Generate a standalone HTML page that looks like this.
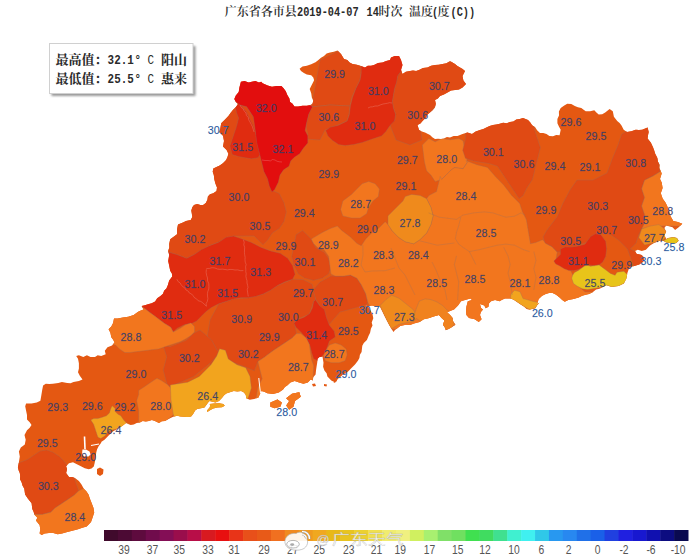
<!DOCTYPE html><html><head><meta charset="utf-8"><title>广东省各市县温度</title><style>
html,body{margin:0;padding:0;background:#fff}
body{width:690px;height:559px;overflow:hidden;position:relative}
svg{position:absolute;left:0;top:0}
.t{font-family:"Liberation Serif","Noto Serif CJK SC","Noto Sans CJK SC",serif;font-weight:bold;font-size:12px;fill:#222}
.lb{font-family:"Liberation Sans",sans-serif;font-size:10.7px;fill:#323c6c;fill-opacity:.9;stroke:#323c6c;stroke-opacity:.5;stroke-width:.3}
.lw{font-family:"Liberation Sans",sans-serif;font-size:10.7px;fill:#2a5a9e;stroke:#2a5a9e;stroke-opacity:.4;stroke-width:.25}
.cb{font-family:"Liberation Sans",sans-serif;font-size:12px;fill:#555}
.lg{font-family:"Liberation Mono","Noto Sans CJK SC",monospace;font-size:12px;fill:#222;font-weight:bold}

</style></head><body>
<svg width="690" height="559" viewBox="0 0 690 559">
<defs><clipPath id="gd"><path d="M240.9,81.7 L244.5,81 L248.8,82.5 L251.7,81.7 L255.4,81 L259,82.5 L261.2,81.7 L262.6,83.2 L267.7,85.4 L272,86.8 L276.4,86.1 L281.4,86.1 L283.6,88.3 L285.8,91.2 L287.2,94.8 L289.4,98.4 L290.1,102 L292.3,103.5 L294.5,106.4 L298.1,106.4 L302.5,105.7 L306.8,105.7 L310.4,104.9 L312.6,103.5 L313.3,100.6 L311.9,97.7 L311.2,93.3 L309.7,89 L311.2,86.1 L312.6,83.2 L314.1,80.3 L313.3,77.4 L311.2,75.2 L306.8,74.5 L303.9,73 L301,70.9 L299.6,68.7 L302.5,66.5 L306.8,65.8 L311.2,64.3 L315.5,62.2 L318.4,60 L321,57.7 L324,56 L326.6,53.6 L330,52.5 L333.8,51.8 L337.5,50.5 L341,54 L344,59 L347.3,59.9 L349.6,62.4 L352.5,64 L356.8,64.7 L361,66 L365,67.5 L367.8,65.8 L371,65.8 L374,65 L378,62.9 L382.5,62.5 L386.2,61.1 L390,60 L391,57.5 L394.8,55.9 L399,56 L401,60 L402.5,65 L401,70 L402.5,74 L405.9,71.7 L410,71 L413,70.5 L416.1,71 L419,70 L423,68 L427.5,67.5 L431.1,65.7 L435,65 L438.8,64.8 L442.5,64 L446.6,63.3 L450,61 L455,64 L457.4,65.9 L460,67.5 L462.6,69.1 L465,71 L462.5,76 L463.4,80.4 L466,84 L462.5,87.5 L459,89.6 L455,90 L451,90.6 L447.5,92.5 L443.9,94.6 L440,96 L437.9,98.6 L435,100 L435.8,103.8 L435,107.5 L432.8,110.3 L430,112.5 L427.5,114.6 L426,117.5 L422.5,121 L420.4,123.5 L417.5,125 L419,130 L421.9,131.4 L425,132.5 L430,135 L432.3,137.2 L435,139 L438,138.7 L441,139 L444,138.6 L446.9,137.1 L450,137.5 L453.6,135.9 L457.5,136 L462.5,134 L467.5,132.5 L472,134 L475.7,131.5 L480,130 L483.4,129.1 L486.4,127.4 L489.6,125.9 L493,125 L496.4,124.6 L499.8,123.7 L503.1,122.8 L506.7,123.2 L510,122 L513.4,121.4 L516.3,119.5 L519.8,119.1 L523,118 L528,120 L530.3,122.4 L532.1,125.2 L535,127 L537.1,130.3 L540,133 L543.3,133.1 L546.5,134.1 L549.4,136.1 L553,136.3 L556.2,135 L559.6,135.2 L560.7,129.8 L558.9,126.6 L557.4,123.3 L557.4,118.9 L559,115.4 L558.9,111.4 L560.7,108 L563.9,105.8 L567.2,103.7 L571.3,103.9 L574.8,105.9 L577.9,107.3 L581.3,108 L585.7,111.3 L590.1,111.3 L594.3,110.2 L596.4,112.5 L598.7,114.6 L602.2,114.2 L605.2,112.4 L609.6,109.1 L612.8,111.3 L613.9,116.7 L617.2,121.1 L619.6,123 L621.5,125.4 L623.7,129.8 L627,132 L631.4,131.3 L635.7,129.8 L639,130 L642.2,129.8 L647.6,127.6 L648.7,132 L648,135.2 L647.6,138.5 L650.9,142.8 L653,147.2 L654.2,150.4 L655.2,153.7 L657.4,158 L657.9,161.5 L659.6,164.6 L659.3,168 L660.7,171.1 L661.7,173.6 L660,178.9 L661.7,182.5 L662.6,187.9 L660.8,193.3 L662.6,198.6 L665.3,202.2 L667.1,205.8 L668.9,211.1 L670.7,216.5 L673.3,221 L677.8,221.9 L682.3,223.7 L678.7,227.2 L675.1,229.9 L672.5,227.2 L669.8,226.4 L666.2,225.5 L664.4,228.1 L666.2,231.7 L664.4,235.3 L666.2,238.9 L668,238 L673.3,237.1 L677,238 L678.7,240.7 L676,243.3 L671.6,243.3 L666.2,242.5 L663.5,241 L660.8,240.6 L658,241.6 L654,243 L650,245.6 L645.9,249.7 L641.8,251 L637.8,249.7 L635.1,251 L636.5,253.7 L641.8,255 L644.5,257.7 L643.2,261.7 L639.2,264.4 L635.1,265.8 L631.1,267.1 L629.1,268 L627.4,273 L626.5,278.3 L623.9,283.5 L618.7,286.1 L615.2,286.6 L611.7,287 L606.5,285.2 L603,287 L599.6,288.7 L596.1,289.6 L592.6,292.2 L589.1,293.9 L585.7,294.8 L582.2,295.7 L578.7,297.4 L573.5,299.1 L568.3,300 L564.8,301.7 L562.2,300 L559.6,297.4 L556.1,294.8 L552.6,293 L549.1,293 L545.7,293.9 L542.2,295.7 L538.7,299.1 L537,304.3 L539.4,302.7 L537.1,305.3 L535.3,308.2 L529.8,309.6 L526.7,309 L524.3,306.8 L520,304 L516,301.3 L513.4,299.6 L510.5,298.6 L505,298.6 L502.1,299.7 L499.5,301.3 L495,300 L491,301.3 L488.9,303.6 L488.5,306.8 L485.7,308.2 L484.3,305.5 L480,304 L481,308 L483,309.6 L480.9,312 L480,315 L481.6,319.2 L478.8,322 L474.7,319.2 L469,317.9 L466.4,315 L466,310.9 L466.4,306.8 L467.8,301.3 L472,300 L470.5,298.6 L465,300 L461,301.3 L458,305.5 L454,309.6 L450,311 L447,312.3 L450,315 L452.6,317.9 L452.6,320.6 L455.4,324.7 L451.3,327.5 L448.7,329.1 L445.8,330.2 L444.7,327.3 L443,324.7 L444.4,320.6 L441.6,317.9 L438.9,315 L433.4,316.5 L429.2,317.9 L423.7,319.2 L419.6,322 L414,323.4 L410,325 L405.8,324.7 L400.3,326 L397.7,328.1 L395,330 L393.5,332 L391.9,329.6 L389.5,325.6 L387,320.8 L384.6,315.9 L382.2,311.1 L379.8,306.3 L375.8,306.6 L372,305.5 L368.6,306.3 L365.3,305.5 L368.3,306.8 L370.1,309.5 L372.5,314.3 L373.3,318.3 L371.7,322.4 L372.5,325.6 L370.9,328.8 L370.1,332.8 L368.5,336.1 L366.9,340 L363.8,343 L362.3,345.8 L361.9,348.9 L361.6,352.1 L359.9,354.8 L359.4,357.9 L357.9,360.7 L355,364.6 L351,368.6 L347.1,372.5 L343.1,374.5 L340.8,376.6 L338.2,378.4 L335.3,382.4 L331.3,380.4 L327.4,376.5 L326.6,373.2 L324.4,370.6 L323.1,366.7 L323.5,362.7 L322.5,356.8 L319.5,357 L317.6,358.7 L317.2,362.7 L316.6,366.6 L316,370.5 L315.6,374.5 L313.4,377.1 L312.6,380.4 L310.7,379.5 L307.8,382.4 L303.4,383.8 L299.1,382.4 L294.7,380.9 L290.4,382.4 L287.5,385.3 L284.9,387 L283.1,389.6 L278.8,392.5 L273,394 L267.2,393.3 L264.3,391.8 L261.4,391.1 L259.9,394 L258.5,397.6 L254.1,399.1 L249.8,399.8 L246.2,398.3 L245.8,395.1 L244,392.5 L241.1,391.1 L237.4,391.5 L233.8,391.1 L229.1,392.5 L226.2,393.5 L224.1,395.2 L221.9,398.1 L219,401 L215.4,402.5 L212.5,401.7 L209.6,401 L208.1,402.5 L206.7,404.6 L204.5,407.5 L200.9,408.3 L197.2,409 L195.1,410.4 L193.6,413.3 L191.4,416.2 L189.4,417 L186.3,417.1 L183.3,416.8 L180.2,416.6 L177.2,415.8 L173.2,416.8 L169.1,418.8 L165,420.9 L161.8,421.2 L159,422.9 L154.9,420.9 L151.9,420 L148.8,420.9 L145.8,421.6 L142.7,420.9 L139.9,422.5 L136.7,422.9 L133.8,424.4 L130.6,424.9 L126.1,423 L122.2,425.9 L117.3,428.9 L112.4,431.8 L108.4,435.7 L104.5,439.7 L101.5,441.7 L101,443 L98.6,446.3 L97,449.5 L96.2,452.7 L95.8,455.9 L95.4,459.2 L94.6,463.2 L93.8,466.5 L91.5,468.6 L88.7,469.2 L84.8,468.2 L80.9,466.3 L76.9,464.3 L73,462.3 L69,463.3 L66.1,466.3 L67.1,469.2 L66.1,473.1 L69,477.1 L72.1,477.1 L75,478.1 L78.9,481 L81.5,484.5 L83.8,488.7 L86.5,491.5 L88.5,494.5 L90,499 L91.8,503.5 L93.5,508 L94.2,512.5 L92.5,517.7 L91,522 L88.9,524.2 L86.7,526.4 L82.3,527.8 L78,529.3 L72.2,530.7 L66.4,532.2 L62,533.6 L57.7,534.3 L53.3,532.9 L49,532.9 L44.6,533.6 L41.7,535.1 L39.6,533.6 L40.3,529.3 L39.6,524.9 L35.9,520.6 L37.4,517.7 L34.5,514.8 L33.6,511.8 L32.3,509 L31.6,503.2 L28,498.8 L25.1,494.5 L24.3,488.7 L22.5,485.5 L21.5,482 L20,479.2 L20.2,476.1 L19.8,473.1 L18.6,470.2 L17.9,467.2 L18.9,462.3 L19.8,456.4 L18.9,451.5 L20.8,447.6 L24.8,444.6 L25.7,439.7 L24.5,435 L27,430.3 L29.7,427.7 L31.5,425 L29.7,422.3 L27,419.6 L27,415.1 L26.1,410.7 L25.2,406.2 L26.1,403.5 L31.5,403.5 L36.8,402.6 L40.4,400.8 L41.3,395.5 L42.2,390.1 L43.1,385.6 L45.8,383.8 L49.3,383.9 L52.9,383.8 L58.3,382.9 L61.9,382 L67.2,382.9 L70.5,383.3 L73.5,382 L78.9,381.1 L82.5,379.4 L79.8,375.8 L78,372.2 L78.9,368.6 L78.9,363.3 L78,358.8 L76.2,356.1 L78.9,355.2 L83.3,357 L86.9,355.2 L90.5,357 L95,357 L97.7,355.2 L101.2,356.1 L105.7,354.3 L104.8,350.7 L107.5,347.2 L112,345.5 L114.5,342.5 L113.2,339.7 L111.3,337.2 L110.4,332.8 L108.6,329.2 L111.3,326.5 L113.1,322.9 L114,318.5 L117.6,318.5 L122.9,317.6 L128.3,316.7 L133.7,314.9 L136.4,313.1 L139,311.3 L143.5,309.5 L141.7,306 L144.9,305.3 L148,304.2 L151.7,303.2 L155.1,301.5 L157.2,298.2 L160.5,296.1 L163,293.8 L164.1,290.7 L166.4,288.4 L167.7,285.4 L169.2,280.5 L172.2,276.6 L171.9,273.4 L170.2,270.7 L169.2,265.8 L168.2,260.9 L169.2,255 L168.2,251 L169.3,247.6 L169.2,244.1 L170.2,239.2 L173,237.2 L177,234.3 L177,229.4 L178,224.4 L183,222.5 L186,221 L190.7,220 L192.3,216.9 L191.8,213.6 L191.3,210.4 L192.3,207.2 L194,205.1 L197.2,204 L200.4,205.1 L203.1,205.1 L205.8,202.9 L207.4,199.7 L207.9,196.5 L210,194.3 L213.3,193.3 L216.5,191.1 L217,187.4 L215.4,183.6 L214.3,179.3 L213.8,175 L212.7,171.8 L213.3,168.6 L216.5,167 L219.7,165.4 L222.9,163.2 L226.1,160 L227.5,157 L228.4,153.7 L226.6,150 L223,146.5 L224,141 L223,135.8 L219.4,132.2 L220.3,128.6 L221.2,123.3 L224.8,119.7 L228.4,116 L230.5,112.9 L232.9,110 L236,107 L238,104 L235.8,102 L234.3,99.1 L235.8,95.5 L238.7,91.9 L239.4,87.5ZM97,469 L100,467.5 L103.5,469.5 L103,474 L100,476 L97,474ZM209.6,403.9 L213.9,403.6 L219,403.2 L223.3,403.9 L224.8,405.7 L221.9,407.2 L217.5,407.5 L213.2,408.6 L209.6,410.4 L207.4,411.9 L207,410.4 L209.6,407.5 L210.3,405.4ZM270.3,402.5 L277.5,399.6 L281.9,402.5 L280.4,406.8 L274.6,408.3 L270.3,406.8ZM286.2,398.2 L292,393.8 L299.3,392.3 L300.7,396.7 L295,401 L293.5,406.8 L289.1,409.7 L286.2,405.4 L289.1,401ZM312,384 L315,383.5 L316,386 L313,386.5ZM324,384 L327,384.5 L326.5,386.5 L324,386ZM332,377.5 L336,377 L337,381 L334,383Z"/></clipPath></defs>
<path d="M240.9,81.7 L244.5,81 L248.8,82.5 L251.7,81.7 L255.4,81 L259,82.5 L261.2,81.7 L262.6,83.2 L267.7,85.4 L272,86.8 L276.4,86.1 L281.4,86.1 L283.6,88.3 L285.8,91.2 L287.2,94.8 L289.4,98.4 L290.1,102 L292.3,103.5 L294.5,106.4 L298.1,106.4 L302.5,105.7 L306.8,105.7 L310.4,104.9 L312.6,103.5 L313.3,100.6 L311.9,97.7 L311.2,93.3 L309.7,89 L311.2,86.1 L312.6,83.2 L314.1,80.3 L313.3,77.4 L311.2,75.2 L306.8,74.5 L303.9,73 L301,70.9 L299.6,68.7 L302.5,66.5 L306.8,65.8 L311.2,64.3 L315.5,62.2 L318.4,60 L321,57.7 L324,56 L326.6,53.6 L330,52.5 L333.8,51.8 L337.5,50.5 L341,54 L344,59 L347.3,59.9 L349.6,62.4 L352.5,64 L356.8,64.7 L361,66 L365,67.5 L367.8,65.8 L371,65.8 L374,65 L378,62.9 L382.5,62.5 L386.2,61.1 L390,60 L391,57.5 L394.8,55.9 L399,56 L401,60 L402.5,65 L401,70 L402.5,74 L405.9,71.7 L410,71 L413,70.5 L416.1,71 L419,70 L423,68 L427.5,67.5 L431.1,65.7 L435,65 L438.8,64.8 L442.5,64 L446.6,63.3 L450,61 L455,64 L457.4,65.9 L460,67.5 L462.6,69.1 L465,71 L462.5,76 L463.4,80.4 L466,84 L462.5,87.5 L459,89.6 L455,90 L451,90.6 L447.5,92.5 L443.9,94.6 L440,96 L437.9,98.6 L435,100 L435.8,103.8 L435,107.5 L432.8,110.3 L430,112.5 L427.5,114.6 L426,117.5 L422.5,121 L420.4,123.5 L417.5,125 L419,130 L421.9,131.4 L425,132.5 L430,135 L432.3,137.2 L435,139 L438,138.7 L441,139 L444,138.6 L446.9,137.1 L450,137.5 L453.6,135.9 L457.5,136 L462.5,134 L467.5,132.5 L472,134 L475.7,131.5 L480,130 L483.4,129.1 L486.4,127.4 L489.6,125.9 L493,125 L496.4,124.6 L499.8,123.7 L503.1,122.8 L506.7,123.2 L510,122 L513.4,121.4 L516.3,119.5 L519.8,119.1 L523,118 L528,120 L530.3,122.4 L532.1,125.2 L535,127 L537.1,130.3 L540,133 L543.3,133.1 L546.5,134.1 L549.4,136.1 L553,136.3 L556.2,135 L559.6,135.2 L560.7,129.8 L558.9,126.6 L557.4,123.3 L557.4,118.9 L559,115.4 L558.9,111.4 L560.7,108 L563.9,105.8 L567.2,103.7 L571.3,103.9 L574.8,105.9 L577.9,107.3 L581.3,108 L585.7,111.3 L590.1,111.3 L594.3,110.2 L596.4,112.5 L598.7,114.6 L602.2,114.2 L605.2,112.4 L609.6,109.1 L612.8,111.3 L613.9,116.7 L617.2,121.1 L619.6,123 L621.5,125.4 L623.7,129.8 L627,132 L631.4,131.3 L635.7,129.8 L639,130 L642.2,129.8 L647.6,127.6 L648.7,132 L648,135.2 L647.6,138.5 L650.9,142.8 L653,147.2 L654.2,150.4 L655.2,153.7 L657.4,158 L657.9,161.5 L659.6,164.6 L659.3,168 L660.7,171.1 L661.7,173.6 L660,178.9 L661.7,182.5 L662.6,187.9 L660.8,193.3 L662.6,198.6 L665.3,202.2 L667.1,205.8 L668.9,211.1 L670.7,216.5 L673.3,221 L677.8,221.9 L682.3,223.7 L678.7,227.2 L675.1,229.9 L672.5,227.2 L669.8,226.4 L666.2,225.5 L664.4,228.1 L666.2,231.7 L664.4,235.3 L666.2,238.9 L668,238 L673.3,237.1 L677,238 L678.7,240.7 L676,243.3 L671.6,243.3 L666.2,242.5 L663.5,241 L660.8,240.6 L658,241.6 L654,243 L650,245.6 L645.9,249.7 L641.8,251 L637.8,249.7 L635.1,251 L636.5,253.7 L641.8,255 L644.5,257.7 L643.2,261.7 L639.2,264.4 L635.1,265.8 L631.1,267.1 L629.1,268 L627.4,273 L626.5,278.3 L623.9,283.5 L618.7,286.1 L615.2,286.6 L611.7,287 L606.5,285.2 L603,287 L599.6,288.7 L596.1,289.6 L592.6,292.2 L589.1,293.9 L585.7,294.8 L582.2,295.7 L578.7,297.4 L573.5,299.1 L568.3,300 L564.8,301.7 L562.2,300 L559.6,297.4 L556.1,294.8 L552.6,293 L549.1,293 L545.7,293.9 L542.2,295.7 L538.7,299.1 L537,304.3 L539.4,302.7 L537.1,305.3 L535.3,308.2 L529.8,309.6 L526.7,309 L524.3,306.8 L520,304 L516,301.3 L513.4,299.6 L510.5,298.6 L505,298.6 L502.1,299.7 L499.5,301.3 L495,300 L491,301.3 L488.9,303.6 L488.5,306.8 L485.7,308.2 L484.3,305.5 L480,304 L481,308 L483,309.6 L480.9,312 L480,315 L481.6,319.2 L478.8,322 L474.7,319.2 L469,317.9 L466.4,315 L466,310.9 L466.4,306.8 L467.8,301.3 L472,300 L470.5,298.6 L465,300 L461,301.3 L458,305.5 L454,309.6 L450,311 L447,312.3 L450,315 L452.6,317.9 L452.6,320.6 L455.4,324.7 L451.3,327.5 L448.7,329.1 L445.8,330.2 L444.7,327.3 L443,324.7 L444.4,320.6 L441.6,317.9 L438.9,315 L433.4,316.5 L429.2,317.9 L423.7,319.2 L419.6,322 L414,323.4 L410,325 L405.8,324.7 L400.3,326 L397.7,328.1 L395,330 L393.5,332 L391.9,329.6 L389.5,325.6 L387,320.8 L384.6,315.9 L382.2,311.1 L379.8,306.3 L375.8,306.6 L372,305.5 L368.6,306.3 L365.3,305.5 L368.3,306.8 L370.1,309.5 L372.5,314.3 L373.3,318.3 L371.7,322.4 L372.5,325.6 L370.9,328.8 L370.1,332.8 L368.5,336.1 L366.9,340 L363.8,343 L362.3,345.8 L361.9,348.9 L361.6,352.1 L359.9,354.8 L359.4,357.9 L357.9,360.7 L355,364.6 L351,368.6 L347.1,372.5 L343.1,374.5 L340.8,376.6 L338.2,378.4 L335.3,382.4 L331.3,380.4 L327.4,376.5 L326.6,373.2 L324.4,370.6 L323.1,366.7 L323.5,362.7 L322.5,356.8 L319.5,357 L317.6,358.7 L317.2,362.7 L316.6,366.6 L316,370.5 L315.6,374.5 L313.4,377.1 L312.6,380.4 L310.7,379.5 L307.8,382.4 L303.4,383.8 L299.1,382.4 L294.7,380.9 L290.4,382.4 L287.5,385.3 L284.9,387 L283.1,389.6 L278.8,392.5 L273,394 L267.2,393.3 L264.3,391.8 L261.4,391.1 L259.9,394 L258.5,397.6 L254.1,399.1 L249.8,399.8 L246.2,398.3 L245.8,395.1 L244,392.5 L241.1,391.1 L237.4,391.5 L233.8,391.1 L229.1,392.5 L226.2,393.5 L224.1,395.2 L221.9,398.1 L219,401 L215.4,402.5 L212.5,401.7 L209.6,401 L208.1,402.5 L206.7,404.6 L204.5,407.5 L200.9,408.3 L197.2,409 L195.1,410.4 L193.6,413.3 L191.4,416.2 L189.4,417 L186.3,417.1 L183.3,416.8 L180.2,416.6 L177.2,415.8 L173.2,416.8 L169.1,418.8 L165,420.9 L161.8,421.2 L159,422.9 L154.9,420.9 L151.9,420 L148.8,420.9 L145.8,421.6 L142.7,420.9 L139.9,422.5 L136.7,422.9 L133.8,424.4 L130.6,424.9 L126.1,423 L122.2,425.9 L117.3,428.9 L112.4,431.8 L108.4,435.7 L104.5,439.7 L101.5,441.7 L101,443 L98.6,446.3 L97,449.5 L96.2,452.7 L95.8,455.9 L95.4,459.2 L94.6,463.2 L93.8,466.5 L91.5,468.6 L88.7,469.2 L84.8,468.2 L80.9,466.3 L76.9,464.3 L73,462.3 L69,463.3 L66.1,466.3 L67.1,469.2 L66.1,473.1 L69,477.1 L72.1,477.1 L75,478.1 L78.9,481 L81.5,484.5 L83.8,488.7 L86.5,491.5 L88.5,494.5 L90,499 L91.8,503.5 L93.5,508 L94.2,512.5 L92.5,517.7 L91,522 L88.9,524.2 L86.7,526.4 L82.3,527.8 L78,529.3 L72.2,530.7 L66.4,532.2 L62,533.6 L57.7,534.3 L53.3,532.9 L49,532.9 L44.6,533.6 L41.7,535.1 L39.6,533.6 L40.3,529.3 L39.6,524.9 L35.9,520.6 L37.4,517.7 L34.5,514.8 L33.6,511.8 L32.3,509 L31.6,503.2 L28,498.8 L25.1,494.5 L24.3,488.7 L22.5,485.5 L21.5,482 L20,479.2 L20.2,476.1 L19.8,473.1 L18.6,470.2 L17.9,467.2 L18.9,462.3 L19.8,456.4 L18.9,451.5 L20.8,447.6 L24.8,444.6 L25.7,439.7 L24.5,435 L27,430.3 L29.7,427.7 L31.5,425 L29.7,422.3 L27,419.6 L27,415.1 L26.1,410.7 L25.2,406.2 L26.1,403.5 L31.5,403.5 L36.8,402.6 L40.4,400.8 L41.3,395.5 L42.2,390.1 L43.1,385.6 L45.8,383.8 L49.3,383.9 L52.9,383.8 L58.3,382.9 L61.9,382 L67.2,382.9 L70.5,383.3 L73.5,382 L78.9,381.1 L82.5,379.4 L79.8,375.8 L78,372.2 L78.9,368.6 L78.9,363.3 L78,358.8 L76.2,356.1 L78.9,355.2 L83.3,357 L86.9,355.2 L90.5,357 L95,357 L97.7,355.2 L101.2,356.1 L105.7,354.3 L104.8,350.7 L107.5,347.2 L112,345.5 L114.5,342.5 L113.2,339.7 L111.3,337.2 L110.4,332.8 L108.6,329.2 L111.3,326.5 L113.1,322.9 L114,318.5 L117.6,318.5 L122.9,317.6 L128.3,316.7 L133.7,314.9 L136.4,313.1 L139,311.3 L143.5,309.5 L141.7,306 L144.9,305.3 L148,304.2 L151.7,303.2 L155.1,301.5 L157.2,298.2 L160.5,296.1 L163,293.8 L164.1,290.7 L166.4,288.4 L167.7,285.4 L169.2,280.5 L172.2,276.6 L171.9,273.4 L170.2,270.7 L169.2,265.8 L168.2,260.9 L169.2,255 L168.2,251 L169.3,247.6 L169.2,244.1 L170.2,239.2 L173,237.2 L177,234.3 L177,229.4 L178,224.4 L183,222.5 L186,221 L190.7,220 L192.3,216.9 L191.8,213.6 L191.3,210.4 L192.3,207.2 L194,205.1 L197.2,204 L200.4,205.1 L203.1,205.1 L205.8,202.9 L207.4,199.7 L207.9,196.5 L210,194.3 L213.3,193.3 L216.5,191.1 L217,187.4 L215.4,183.6 L214.3,179.3 L213.8,175 L212.7,171.8 L213.3,168.6 L216.5,167 L219.7,165.4 L222.9,163.2 L226.1,160 L227.5,157 L228.4,153.7 L226.6,150 L223,146.5 L224,141 L223,135.8 L219.4,132.2 L220.3,128.6 L221.2,123.3 L224.8,119.7 L228.4,116 L230.5,112.9 L232.9,110 L236,107 L238,104 L235.8,102 L234.3,99.1 L235.8,95.5 L238.7,91.9 L239.4,87.5ZM97,469 L100,467.5 L103.5,469.5 L103,474 L100,476 L97,474ZM209.6,403.9 L213.9,403.6 L219,403.2 L223.3,403.9 L224.8,405.7 L221.9,407.2 L217.5,407.5 L213.2,408.6 L209.6,410.4 L207.4,411.9 L207,410.4 L209.6,407.5 L210.3,405.4ZM270.3,402.5 L277.5,399.6 L281.9,402.5 L280.4,406.8 L274.6,408.3 L270.3,406.8ZM286.2,398.2 L292,393.8 L299.3,392.3 L300.7,396.7 L295,401 L293.5,406.8 L289.1,409.7 L286.2,405.4 L289.1,401ZM312,384 L315,383.5 L316,386 L313,386.5ZM324,384 L327,384.5 L326.5,386.5 L324,386ZM332,377.5 L336,377 L337,381 L334,383Z" fill="#e45812"/>
<g clip-path="url(#gd)">
<path d="M200,100 L236,102 L240,105 L246.7,106.7 L253.3,116.7 L258.3,128.3 L261.7,140 L263.3,153.3 L265,166.7 L268.3,180 L271.7,190 L279.3,193.5 L284,202.8 L286.3,212.1 L284,221.4 L279.3,228.4 L272.3,233 L267.7,240 L263,244.7 L254,236 L233.5,236.1 L218.7,242.2 L208.9,245.9 L194.1,254.6 L186.7,258.3 L176.9,254.6 L168.3,252.1 L150,250 L160,200Z" fill="#e04a14" stroke="#9a7060" stroke-opacity=".45" stroke-width=".7"/>
<path d="M311,107 L330,105 L350,106 L352,97 L356,88 L360,80 L361,73 L362,67 L340,50 L320,60 L311.7,106Z" fill="#e04a14" stroke="#9a7060" stroke-opacity=".45" stroke-width=".7"/>
<path d="M325,130 L338,125 L347,121 L349,114 L350,106 L330,105 L311,107 L309,113 L307,120 L306,127 L308,135 L305,139 L320,140Z" fill="#e04a14" stroke="#9a7060" stroke-opacity=".45" stroke-width=".7"/>
<path d="M403,66 L470,60 L470,90 L440,100 L426,118 L420,125 L422,140 L410,145 L396,140 L390,125 L394,121 L395.6,114.4 L393.4,108 L392.3,101.6 L394.5,88.7 L397.7,75.8 L403,68Z" fill="#e04a14" stroke="#9a7060" stroke-opacity=".45" stroke-width=".7"/>
<path d="M296,234.8 L302.6,230.4 L311.3,239.1 L315.7,247.8 L324.3,252.2 L328.7,258.7 L330.9,267.4 L328.7,273.9 L322.2,278.3 L313.5,280.4 L304.8,278.3 L298.3,273.9 L293.9,265.2 L291.7,256.5 L293.9,245.7Z" fill="#e04a14" stroke="#9a7060" stroke-opacity=".45" stroke-width=".7"/>
<path d="M218.7,303.8 L233.5,298.9 L248.3,297.7 L263.1,294 L277.9,285.3 L292.6,279.2 L303,279.5 L312.3,284.2 L315.8,299.3 L313.7,301.5 L309.4,314.3 L298.7,318.6 L294.4,321.8 L296.5,333.6 L292.2,337.9 L279.4,346.5 L272.9,350.8 L264.3,357.3 L257.9,361.5 L254.3,370.7 L235.5,363.2 L223.9,360 L211.7,368.1 L205,350 L210,320Z" fill="#e04a14" stroke="#9a7060" stroke-opacity=".45" stroke-width=".7"/>
<path d="M315.8,299.3 L313,290 L320,282 L330.9,276 L343.9,276.1 L350.4,275 L357,278.3 L361.3,284.8 L365.7,293.5 L367.8,302.2 L367,304.5 L355,308 L340,312 L328.7,325.1 L324.4,316.5 L320.1,305.8Z" fill="#e04a14" stroke="#9a7060" stroke-opacity=".45" stroke-width=".7"/>
<path d="M163,345 L170,346.7 L186.7,340 L193.3,333.3 L200,330 L211.7,340 L217,350 L220,352 L210,363.3 L193.3,376.7 L170,386.7 L166.7,383.3 L163.3,370 L166.7,356.7Z" fill="#e04a14" stroke="#9a7060" stroke-opacity=".45" stroke-width=".7"/>
<path d="M238.6,102.9 L246.1,111.5 L252.6,124.4 L256.9,137.3 L260.1,154.5 L258,157.7 L251.5,158.8 L245.1,157.7 L238.6,156.6 L232.2,154.5 L230,145.9 L232.2,139.4 L234.3,133 L236.5,126.6 L238.6,118 L236.5,112.6 L235.4,107.2Z" fill="#e02c10" stroke="#9a7060" stroke-opacity=".45" stroke-width=".7"/>
<path d="M361.2,55 L405,55 L403.1,68.3 L400.9,71.5 L397.7,75.8 L396.6,82.2 L394.5,88.7 L393.4,95.1 L392.3,101.6 L393.4,108 L395.6,114.4 L394.5,120.9 L390.2,125.2 L385.9,131.6 L381.6,135.9 L375.2,138.1 L368.7,140.2 L362.3,142.4 L353.7,144.5 L345.1,145.6 L338.6,144.5 L332.2,140.2 L327.9,135.9 L325.7,130.6 L330,127.3 L338.6,125.2 L347.2,120.9 L349.4,114.4 L350.4,105.9 L352.6,97.3 L355.8,88.7 L360.1,80.1 L361.2,73.6Z" fill="#e02c10" stroke="#9a7060" stroke-opacity=".45" stroke-width=".7"/>
<path d="M160,245 L168.3,252.1 L176.9,254.6 L186.7,258.3 L194.1,254.6 L201.5,249.6 L208.9,245.9 L218.7,242.2 L226.1,237.3 L233.5,236.1 L240.9,238.5 L250.8,242.2 L260.6,247.2 L270.5,250.9 L280.3,253.3 L287.7,258.3 L292.6,265.6 L295.1,274.3 L292.6,279.2 L285.2,281.7 L277.9,285.3 L270.5,290.3 L263.1,294 L255.7,296.4 L248.3,297.7 L240.9,297.7 L233.5,298.9 L226.1,301.4 L218.7,303.8 L211.4,307.5 L206.4,311.2 L201.5,316.1 L196.6,321.1 L191.7,323.5 L184.3,324.8 L176.9,328.4 L173.2,332.1 L170.7,327.2 L164.6,323.5 L159.6,319.8 L154.7,316.1 L149.8,312.4 L144.9,308.7 L141.2,306.3 L130,300 L150,280 L160,260Z" fill="#e02c10" stroke="#9a7060" stroke-opacity=".45" stroke-width=".7"/>
<path d="M315.6,299.7 L319.5,305.6 L324.4,309.5 L326.4,317.4 L329.4,325.3 L334.3,331.2 L335.3,337.1 L329.4,341 L327.4,346.9 L325.4,352.8 L321.5,356.8 L317.6,360.7 L313.6,358.7 L311.7,352.8 L309.7,345 L306.7,339.1 L301.8,333.1 L295.9,327.2 L293.9,323.3 L297.9,319.4 L303.8,317.4 L309.7,313.5 L312.6,307.6 L313.6,301.7Z" fill="#e02c10" stroke="#9a7060" stroke-opacity=".45" stroke-width=".7"/>
<path d="M230,75 L300,75 L300,100 L311.7,106 L312.2,107.2 L308.7,114.3 L306.9,121.5 L305.1,130.4 L307.8,135.8 L307.8,142.9 L303.3,148.3 L299.7,153.7 L294.4,157.2 L290.8,160.8 L289,166.2 L283.6,169.8 L280,175.1 L278.3,182.3 L274.7,189.4 L272,192.1 L269.3,185.9 L267.5,178.7 L263.9,171.6 L262.2,164.4 L260.4,157.2 L258.6,150.1 L256.8,142.9 L255.9,135.8 L255,128.6 L253.3,116.7 L246.7,106.7 L240,105 L236,102 L230,99Z" fill="#e20e0e" stroke="#9a7060" stroke-opacity=".45" stroke-width=".7"/>
<path d="M422.3,145 L428.8,138.6 L435.2,141.8 L441.7,138.6 L450.2,139.7 L458.8,138.6 L463.1,140.7 L465.3,151.5 L467.4,162.2 L463.1,168.7 L454.5,167.6 L450.2,170.8 L446,175.1 L441.7,179.4 L435.2,181.5 L430.9,175.1 L426.6,170.8 L424.5,162.2 L423.4,153.6Z" fill="#f2761e" stroke="#9a7060" stroke-opacity=".45" stroke-width=".7"/>
<path d="M342.9,200.9 L351.5,194.4 L357.9,188 L362.2,183.7 L368.7,181.5 L375.1,183.7 L379.4,189 L378.3,196.6 L372.9,200.9 L368.7,207.3 L366.5,213.7 L360.1,218 L351.5,218 L342.9,215.9 L340.7,209.5Z" fill="#f2761e" stroke="#9a7060" stroke-opacity=".45" stroke-width=".7"/>
<path d="M311.3,239.1 L322.2,232.6 L330.9,228.3 L337.4,226.1 L341.7,230.4 L350.4,237 L357,243.5 L361.3,245.7 L365.7,239.1 L372.2,232.6 L378.7,228.3 L385.2,221.7 L388,224.5 L392.3,230.9 L398.7,237.4 L405.2,241.7 L413.7,243.8 L420.2,239.5 L426.6,233.1 L430.9,224.5 L433.1,215.9 L430.9,207.3 L426.6,198.7 L429,195.4 L436.5,191.6 L440.3,176.5 L441.7,179.4 L446,175.1 L450.2,170.8 L454.5,167.6 L463.1,168.7 L467.4,162.2 L466.1,160.7 L476.8,164.7 L487.5,167.4 L495.6,176.8 L503.6,184.9 L511.7,195.6 L519.7,203.6 L522.4,211.7 L526.4,219.7 L527.7,227.7 L529.1,235.8 L530.4,243.8 L535.8,242.5 L542.5,239.8 L546.5,243.8 L551.9,246.5 L557.2,251.9 L555.9,259.9 L559.9,262.6 L565.3,268 L570.6,270.6 L573.3,276 L576,284 L585,292 L600,292 L605,300 L560,320 L380,330 L370,306.5 L367.8,302.2 L365.7,293.5 L361.3,284.8 L357,278.3 L350.4,275 L343.9,276.1 L335.2,276.1 L330.9,273.9 L329.8,265.2 L328.7,256.5 L324.3,250 L317.8,247.8 L313.5,243.5Z" fill="#f2761e" stroke="#9a7060" stroke-opacity=".45" stroke-width=".7"/>
<path d="M465.4,125 L532.4,112 L532.4,120.7 L535.1,131.4 L537.7,139.5 L540.4,147.5 L537.7,158.3 L535.1,169 L532.4,179.7 L527,187.7 L523,195.8 L519,198.5 L513.6,190.4 L508.3,182.4 L502.9,174.3 L497.5,166.3 L489.5,163.6 L481.4,162.3 L473.4,160.9 L465.4,158.3 L462.7,150.2 L465.4,139.5Z" fill="#e04a14" stroke="#9a7060" stroke-opacity=".45" stroke-width=".7"/>
<path d="M621.6,134.3 L636,125 L650,125 L650.3,137.2 L656,151.5 L658.9,163 L660.3,171.6 L653.2,175.9 L644.6,180.2 L641.7,188.8 L644.6,197.4 L641.7,206 L644.6,214.6 L644.6,223.2 L641.7,228.9 L638.8,234.6 L636,243.2 L630.2,248.9 L636,251.8 L641.7,254.7 L644.6,262 L635,270 L627.4,248.9 L618.8,240.3 L610.2,234.6 L604.4,233.2 L598.7,234.6 L593,240.3 L584.4,243.2 L575.8,246.1 L567.2,248.9 L561.5,251.8 L557.2,251.9 L551.9,246.5 L545,243 L543,237 L547,230 L557,217 L563,203 L570,190 L577,180 L593,180 L607,173 L613,157 L618,145Z" fill="#e04a14" stroke="#9a7060" stroke-opacity=".45" stroke-width=".7"/>
<path d="M257.9,361.5 L264.3,357.3 L272.9,350.8 L279.4,346.5 L285.8,342.2 L292.2,337.9 L296.5,333.6 L300.8,333.6 L306.2,337.9 L309.4,344.4 L310.5,353 L311.5,359.4 L313.7,365.8 L313,380 L300,400 L255.8,400 L257.9,387.3 L262.2,378.7 L260,370.1Z" fill="#f2761e" stroke="#9a7060" stroke-opacity=".45" stroke-width=".7"/>
<path d="M325.4,350.9 L329.4,345 L335.3,343 L341.2,345 L346.1,348.9 L347.1,354.8 L345.1,360.7 L339.2,362.7 L331.3,362.7 L325.4,360.7 L323.5,355.8Z" fill="#f2761e" stroke="#9a7060" stroke-opacity=".45" stroke-width=".7"/>
<path d="M100,300 L141.2,306.3 L144.9,308.7 L149.8,312.4 L154.7,316.1 L159.6,319.8 L164.6,323.5 L170.7,327.2 L173.2,332.1 L180.2,328.3 L185.5,324.7 L190.9,322.9 L194.5,326.5 L194.5,331.9 L190.9,335.5 L185.5,339 L180.2,341.7 L174.8,343.5 L169.4,345.3 L164.1,347.1 L158.7,348.9 L151.6,349.8 L144.4,350.7 L137.2,351.6 L130.1,352.5 L124.7,352.5 L119.4,348.9 L115.8,345.3 L100,340Z" fill="#f2761e" stroke="#9a7060" stroke-opacity=".45" stroke-width=".7"/>
<path d="M138.7,390.4 L144.8,386.4 L150.9,382.3 L156.9,378.3 L161,380.3 L167.1,384.3 L171.1,388.4 L173.2,394.5 L173.2,404.6 L175.2,412.7 L171.1,416.8 L161,425 L150.9,425 L138.7,425 L138.7,416.8 L138.7,410.7 L136.7,400.6 L138.7,394.5Z" fill="#f2761e" stroke="#9a7060" stroke-opacity=".45" stroke-width=".7"/>
<path d="M10,463 L18.6,462.9 L27.2,459.7 L33.6,455.4 L40,451.1 L46.5,450 L52.9,452.2 L59.4,456.5 L63.6,460.8 L66.9,465.1 L70.1,471.5 L74.4,477.9 L76.5,484.4 L78.7,490.8 L74.4,495.1 L67.9,499.4 L61.5,503.7 L55,508 L50.8,512.3 L42.2,514.4 L33.6,514.4 L10,514Z" fill="#e04a14" stroke="#9a7060" stroke-opacity=".45" stroke-width=".7"/>
<path d="M30,540 L33.6,514.4 L42.2,514.4 L50.8,512.3 L55,508 L61.5,503.7 L67.9,499.4 L74.4,495.1 L78.7,490.8 L83,488.7 L90,485 L100,500 L100,540Z" fill="#f2761e" stroke="#9a7060" stroke-opacity=".45" stroke-width=".7"/>
<path d="M658.9,165 L660.3,171.6 L653.2,175.9 L644.6,180.2 L641.7,188.8 L644.6,197.4 L641.7,206 L644.6,214.6 L644.6,223.2 L641.7,228.9 L660,226 L690,226 L690,165Z" fill="#f2761e" stroke="#9a7060" stroke-opacity=".45" stroke-width=".7"/>
<path d="M265,398 L305,390 L305,412 L265,412Z" fill="#f2761e" stroke="#9a7060" stroke-opacity=".45" stroke-width=".7"/>
<path d="M388,215.9 L394.4,209.5 L403,200.9 L405.2,196.6 L411.6,194.4 L420.2,195.5 L426.6,198.7 L430.9,207.3 L433.1,215.9 L430.9,224.5 L426.6,233.1 L420.2,239.5 L413.7,243.8 L405.2,241.7 L398.7,237.4 L392.3,230.9 L388,224.5Z" fill="#ef8a1c" stroke="#9a7060" stroke-opacity=".45" stroke-width=".7"/>
<path d="M380.1,305.4 L385.9,299.6 L391.7,295.3 L399,298.2 L406.2,304 L413.5,309.8 L414.9,312.7 L416.4,317 L413.5,321.4 L406.2,322.8 L399,324.3 L391.7,328.6 L388.8,324.3 L384.5,315.6Z" fill="#ef8a1c" stroke="#9a7060" stroke-opacity=".45" stroke-width=".7"/>
<path d="M416.4,308.3 L419.3,301.1 L425.1,298.9 L430.9,299.6 L436.7,301.8 L442.5,305.4 L446.8,309.8 L451.2,312.7 L452.6,317 L454.1,324.3 L451.2,328.6 L445.4,330.1 L442.5,324.3 L436.7,321.4 L428,321.4 L420.7,321.4 L416.4,318.5 L413.5,321.4 L414.9,312.7Z" fill="#f0821e" stroke="#9a7060" stroke-opacity=".45" stroke-width=".7"/>
<path d="M641.7,228.9 L650.3,226 L658.9,224.6 L664.6,228.9 L668,235 L663,240 L653.2,243 L644.6,245 L638.8,237.5Z" fill="#ef8a1c" stroke="#9a7060" stroke-opacity=".45" stroke-width=".7"/>
<path d="M170.3,385 L187.7,382.2 L199.3,376.4 L210.9,364.8 L216.7,356.1 L219.6,348.8 L225.4,350.3 L228.3,359 L237,364.8 L245.7,367.7 L250,376.4 L251.4,388 L248.6,396.7 L245,405 L200,420 L175,420 L173.2,414 L171,400Z" fill="#f2a41e" stroke="#9a7060" stroke-opacity=".45" stroke-width=".7"/>
<path d="M112.2,405.7 L115.1,408.6 L115.1,411.4 L118,414.3 L120.8,415.7 L123.7,420 L126.5,422.9 L129.4,424.3 L125.1,427.2 L118,428.6 L112.2,430 L107.9,431.5 L105.1,435.8 L100.8,438.6 L97.9,437.2 L96.5,432.9 L95,428.6 L93.6,424.3 L90.8,420 L93.6,418.6 L97.9,418.6 L102.2,417.2 L106.5,415.7 L109.4,412.9 L110.8,408.6Z" fill="#f2a41e" stroke="#9a7060" stroke-opacity=".45" stroke-width=".7"/>
<path d="M511,294 L514.6,290.3 L520,291.7 L523,298.6 L528.4,300 L532.5,301.3 L539.4,302.7 L535.3,308.2 L529.8,309.6 L524.3,306.8 L520,304 L516,301.3 L510.5,298.6Z" fill="#f2a41e" stroke="#9a7060" stroke-opacity=".45" stroke-width=".7"/>
<path d="M663.5,240.7 L668,238 L673.3,237.1 L677,238 L678.7,240.7 L676,243.3 L671.6,243.3 L666.2,242.5Z" fill="#e8c41a" stroke="#9a7060" stroke-opacity=".45" stroke-width=".7"/>
<path d="M553.8,261.1 L556.6,258.3 L560.4,254.5 L560.4,248.9 L565.1,247 L571.7,247 L578.3,246 L584.9,244.2 L587.7,240.4 L590.6,236.6 L595.3,233.8 L600.9,234.7 L605.7,241.3 L606.6,248.9 L605.7,256.4 L602.8,262.1 L599.1,264.9 L594.3,265.8 L589.6,264.9 L584.9,265.8 L582.1,267.7 L578.3,269.6 L573.6,270.6 L568.9,270.6 L564.2,268.7 L559.4,265.8 L555.7,264Z" fill="#e02c10" stroke="#9a7060" stroke-opacity=".45" stroke-width=".7"/>
<path d="M572.6,275.3 L574.5,272.5 L578.3,270.6 L582.1,267.7 L584.9,265.8 L587.7,265.4 L590.6,266.3 L594.3,265.8 L599.1,264.9 L602.8,267.7 L606.6,270.6 L610.4,273.4 L615.1,275.3 L617,272.2 L623.9,271.3 L627.4,274.8 L626.5,280 L623.9,283.5 L618.7,286.1 L611.7,287 L606.5,285.2 L603,287 L597.8,287.8 L592.6,288.7 L587.4,289.6 L582.2,288.7 L577,286.1 L573.5,283.5 L571.7,278.3Z" fill="#e8c41a" stroke="#9a7060" stroke-opacity=".45" stroke-width=".7"/>
<path d="M428.6,212.9 L439.3,217.2 L447.9,218.3 L456.5,219.4 L462.9,215.1 L473.7,212.9 L484.4,211.9 L493,212.9 L499.4,215.1 L505.9,217.2 L514.5,216.2 L520.9,212.9 L525.2,215.1" fill="none" stroke="#9a7060" stroke-opacity=".45" stroke-width=".7"/>
<path d="M460.8,217.2 L458.7,225.8 L456.5,232.3 L455.4,238.7 L458.7,244.1 L462.9,247.3 L469.4,251.6 L473.7,260.2 L475.8,264.5" fill="none" stroke="#9a7060" stroke-opacity=".45" stroke-width=".7"/>
<path d="M469.4,251.6 L480.1,249.5 L488.7,247.3 L497.3,245.2 L505.9,244.1 L514.5,245.2 L523.1,249.5 L529.5,251.6" fill="none" stroke="#9a7060" stroke-opacity=".45" stroke-width=".7"/>
<path d="M503.7,247.3 L508,255.9 L510.2,264.5 L508,273.1 L510.2,281.7 L512.3,295" fill="none" stroke="#9a7060" stroke-opacity=".45" stroke-width=".7"/>
<path d="M420,240.9 L428.6,243 L437.2,245.2 L445.8,244.1 L454.4,243" fill="none" stroke="#9a7060" stroke-opacity=".45" stroke-width=".7"/>
<path d="M456.5,255.9 L454.4,264.5 L456.5,273.1 L458.7,281.7 L457.6,300" fill="none" stroke="#9a7060" stroke-opacity=".45" stroke-width=".7"/>
<path d="M533.8,251.6 L536,260.2 L533.8,268.8 L536,277.4 L533.8,290" fill="none" stroke="#9a7060" stroke-opacity=".45" stroke-width=".7"/>
<path d="M362.8,245 L363,255 L361,265 L365,272 L372,271 L385,270.7 L395,268" fill="none" stroke="#9a7060" stroke-opacity=".45" stroke-width=".7"/>
<path d="M391,248 L395,258 L399,268 L405,275 L410,285 L415,295" fill="none" stroke="#9a7060" stroke-opacity=".45" stroke-width=".7"/>
<path d="M432,262 L436,270 L440,280 L445,290 L447,300" fill="none" stroke="#9a7060" stroke-opacity=".45" stroke-width=".7"/>
<path d="M206.4,268.5 L209.3,268.4 L212.1,267.7 L215,268 L217.4,269 L219.9,269.3 L222.5,269.1 L225,269.5 L227.5,269.9 L230,269.4 L232.5,269.5 L235,270 L237.8,269.9 L240.6,270.7 L243.4,270.6" fill="none" stroke="#fff" stroke-opacity=".22" stroke-width=".8"/>
<path d="M243.4,239.8 L244.2,242.3 L243.8,244.9 L244.7,247.4 L244.5,250 L244.4,252.4 L244.7,254.8 L245.1,257.2 L245,259.7 L245.2,262.1 L246.1,264.4 L245.6,266.9 L245.8,269.3 L245.8,271.6 L246.2,273.9 L245.9,276.2 L246.3,278.5 L247,280.7 L247,283 L247.6,285.2 L248,287.4 L247.2,289.7 L247.6,292 L247.9,294.2 L248.3,296.4" fill="none" stroke="#fff" stroke-opacity=".22" stroke-width=".8"/>
<path d="M176.9,279.2 L177.9,281.4 L180,282.8 L181.2,284.8 L182.7,286.6 L184.8,287.9 L186,290 L188.1,291 L189.4,293.1 L191.6,294 L193.2,295.8 L194.5,297.8 L196.6,298.9 L198.2,300.8 L200.8,301.4 L202.8,302.9 L204.7,304.5 L206.4,306.3" fill="none" stroke="#fff" stroke-opacity=".22" stroke-width=".8"/>
<path d="M206.4,269.3 L206.1,272.3 L206.6,275.2 L207.5,278 L207.6,280.9 L208.8,283.7 L208.9,286.6 L208.8,289 L207.9,291.3 L207.4,293.6 L207.5,296 L207.9,298.6 L207.4,301.2 L206.1,303.7 L206.4,306.3" fill="none" stroke="#fff" stroke-opacity=".22" stroke-width=".8"/>
<path d="M240,105 L241.1,107.3 L243.2,108.9 L244.2,111.2 L246,113 L246.4,115.5 L248.2,117.4 L248.7,119.9 L250,122 L251.2,124.4 L252.4,126.8 L253.2,129.4 L254,132" fill="none" stroke="#fff" stroke-opacity=".22" stroke-width=".8"/>
<path d="M262,160 L265,160.5 L268,160.5 L270.4,160.9 L272.6,159.5 L275,160 L277.2,161.3 L279.5,161.8 L282,162" fill="none" stroke="#fff" stroke-opacity=".22" stroke-width=".8"/>
<path d="M368,108 L370.2,107 L372.7,106.8 L375,106 L377.8,106 L380.4,104.9 L383,104 L385.2,103.7 L387.5,103.2 L389.7,102.7 L392,103" fill="none" stroke="#fff" stroke-opacity=".22" stroke-width=".8"/>
</g>
<path d="M84.5,436.5 L85,449" stroke="#fff" stroke-width="1.6" fill="none"/>
<path d="M91,445.5 L99,444" stroke="#fff" stroke-width="1.2" fill="none"/>
<path d="M82.5,449.5 L86,449.5 L89.5,451.5 L90.6,454.5 L88.5,456.5 L84,456.5 L82,454Z" fill="#fff"/>
<path d="M260.5,393 L259.5,385 L258.8,378" stroke="#fff" stroke-width="1" fill="none"/>
<text class="lb" x="255.9" y="112.2">32.0</text>
<text class="lb" x="272.6" y="152.6">32.1</text>
<text class="lb" x="232.3" y="150.6">31.5</text>
<text class="lw" x="207.8" y="133.6">30.7</text>
<text class="lb" x="318.4" y="121.4">30.6</text>
<text class="lb" x="324.2" y="77.8">29.9</text>
<text class="lb" x="318.4" y="177.6">29.9</text>
<text class="lb" x="367.9" y="94.6">31.0</text>
<text class="lb" x="354.6" y="129.6">31.0</text>
<text class="lb" x="428.9" y="89.9">30.7</text>
<text class="lb" x="407.3" y="118.9">30.6</text>
<text class="lb" x="396.9" y="163.9">29.7</text>
<text class="lb" x="436.3" y="162.9">28.0</text>
<text class="lb" x="482.9" y="156.3">30.1</text>
<text class="lb" x="513.6" y="167.9">30.6</text>
<text class="lb" x="544.6" y="169.9">29.4</text>
<text class="lb" x="395.6" y="189.9">29.1</text>
<text class="lb" x="350.3" y="207.9">28.7</text>
<text class="lb" x="455.6" y="199.9">28.4</text>
<text class="lb" x="399.6" y="226.6">27.8</text>
<text class="lb" x="356.9" y="233.3">29.0</text>
<text class="lb" x="535.6" y="213.9">29.9</text>
<text class="lb" x="475.6" y="237.3">28.5</text>
<text class="lb" x="560.6" y="126.3">29.6</text>
<text class="lb" x="585.6" y="139.6">29.5</text>
<text class="lb" x="579.6" y="170.6">29.1</text>
<text class="lb" x="625.3" y="167.3">30.8</text>
<text class="lb" x="587.3" y="209.9">30.3</text>
<text class="lb" x="652.3" y="214.6">28.8</text>
<text class="lb" x="627.9" y="223.9">30.5</text>
<text class="lb" x="596.3" y="233.9">30.7</text>
<text class="lb" x="560.3" y="244.6">30.5</text>
<text class="lb" x="643.9" y="241.6">27.7</text>
<text class="lw" x="663.6" y="250.6">25.8</text>
<text class="lb" x="567.9" y="264.6">31.1</text>
<text class="lb" x="611.3" y="268.9">29.9</text>
<text class="lw" x="640.6" y="264.6">30.3</text>
<text class="lb" x="584.6" y="286.6">25.5</text>
<text class="lb" x="538.6" y="283.9">28.8</text>
<text class="lb" x="509.6" y="286.6">28.1</text>
<text class="lb" x="464.6" y="283.3">28.5</text>
<text class="lb" x="228.6" y="200.6">30.0</text>
<text class="lb" x="293.9" y="217.3">29.4</text>
<text class="lb" x="249.6" y="229.9">30.5</text>
<text class="lb" x="184.6" y="243.3">30.2</text>
<text class="lb" x="275.6" y="249.9">29.9</text>
<text class="lb" x="317.9" y="248.9">28.9</text>
<text class="lb" x="209.6" y="264.6">31.7</text>
<text class="lb" x="294.6" y="266.3">30.1</text>
<text class="lb" x="337.9" y="266.6">28.2</text>
<text class="lb" x="250.3" y="275.6">31.3</text>
<text class="lb" x="184.6" y="288.3">31.0</text>
<text class="lb" x="217.3" y="297.3">31.5</text>
<text class="lb" x="292.9" y="296.6">29.7</text>
<text class="lb" x="322.3" y="306.3">30.7</text>
<text class="lw" x="358.9" y="313.9">30.7</text>
<text class="lb" x="161.3" y="318.9">31.5</text>
<text class="lb" x="231.3" y="323.3">30.9</text>
<text class="lb" x="277.9" y="321.3">30.0</text>
<text class="lb" x="337.9" y="334.9">29.5</text>
<text class="lb" x="306.3" y="338.9">31.4</text>
<text class="lb" x="258.9" y="340.6">29.9</text>
<text class="lb" x="178.9" y="362.3">30.2</text>
<text class="lb" x="237.9" y="358.3">30.2</text>
<text class="lb" x="323.9" y="358.3">28.7</text>
<text class="lb" x="120.6" y="340.6">28.8</text>
<text class="lb" x="125.6" y="377.9">29.0</text>
<text class="lb" x="47.3" y="410.6">29.3</text>
<text class="lb" x="81.9" y="409.9">29.6</text>
<text class="lb" x="114.6" y="411.3">29.2</text>
<text class="lb" x="150.3" y="409.6">28.0</text>
<text class="lb" x="197.3" y="399.9">26.4</text>
<text class="lb" x="100.6" y="433.9">26.4</text>
<text class="lb" x="36.9" y="446.6">29.5</text>
<text class="lb" x="75.3" y="460.6">29.0</text>
<text class="lb" x="37.9" y="489.9">30.3</text>
<text class="lb" x="64.5" y="520.5">28.4</text>
<text class="lb" x="372.9" y="258.9">28.3</text>
<text class="lb" x="407.9" y="258.9">28.4</text>
<text class="lb" x="426.3" y="287.3">28.5</text>
<text class="lb" x="373.6" y="294.3">28.3</text>
<text class="lb" x="393.9" y="320.6">27.3</text>
<text class="lb" x="287.9" y="370.9">28.7</text>
<text class="lw" x="335.6" y="377.9">29.0</text>
<text class="lw" x="276.3" y="415.6">28.0</text>
<text class="lw" x="531.9" y="317.3">26.0</text>
<text x="224.8" y="15.6" style="font-family:'Liberation Serif','Noto Serif CJK SC','Noto Sans CJK SC',serif;font-size:12px;font-weight:600;fill:#2a2a2a" >广东省各市县</text>
<text x="0" y="0" transform="translate(297,15.6) scale(0.79,1)" style="font-family:'Liberation Mono',monospace;font-size:13px;font-weight:bold;fill:#2a2a2a" >2019-04-07</text>
<text x="0" y="0" transform="translate(366.5,15.6) scale(0.79,1)" style="font-family:'Liberation Mono',monospace;font-size:13px;font-weight:bold;fill:#2a2a2a" >14</text>
<text x="378.5" y="15.6" style="font-family:'Liberation Serif','Noto Serif CJK SC','Noto Sans CJK SC',serif;font-size:12px;font-weight:600;fill:#2a2a2a" >时次</text>
<text x="409" y="15.6" style="font-family:'Liberation Serif','Noto Serif CJK SC','Noto Sans CJK SC',serif;font-size:12px;font-weight:600;fill:#2a2a2a" >温度</text>
<text x="0" y="0" transform="translate(432,15.6) scale(0.79,1)" style="font-family:'Liberation Mono',monospace;font-size:13px;font-weight:bold;fill:#2a2a2a" >(</text>
<text x="437.4" y="15.6" style="font-family:'Liberation Serif','Noto Serif CJK SC','Noto Sans CJK SC',serif;font-size:12px;font-weight:600;fill:#2a2a2a" >度</text>
<text x="0" y="0" transform="translate(450.5,15.6) scale(0.79,1)" style="font-family:'Liberation Mono',monospace;font-size:13px;font-weight:bold;fill:#2a2a2a" >(C))</text>
<defs><filter id="blur" x="-10%" y="-10%" width="130%" height="140%"><feGaussianBlur stdDeviation="1.2"/></filter></defs>
<rect x="51.5" y="46" width="144" height="50" fill="#555" opacity=".6" filter="url(#blur)"/>
<rect x="49.5" y="43.5" width="143.5" height="50" fill="#fff" stroke="#d0d0d0" stroke-width="1"/>
<text x="55.4" y="64.2" style="font-family:'Liberation Serif','Noto Serif CJK SC','Noto Sans CJK SC',serif;font-size:13px;font-weight:bold;fill:#2a2a2a" >最高值：</text>
<text x="0" y="0" transform="translate(107.6,64.2) scale(0.84,1)" style="font-family:'Liberation Mono',monospace;font-size:13px;font-weight:bold;fill:#2a2a2a" >32.1</text>
<text x="0" y="0" transform="translate(134.5,64.2) scale(0.84,1)" style="font-family:'Liberation Mono',monospace;font-size:13px;font-weight:bold;fill:#2a2a2a" >°</text>
<text x="0" y="0" transform="translate(147.4,64.2) scale(0.84,1)" style="font-family:'Liberation Mono',monospace;font-size:13px;font-weight:normal;fill:#2a2a2a" >C</text>
<text x="161" y="64.2" style="font-family:'Liberation Serif','Noto Serif CJK SC','Noto Sans CJK SC',serif;font-size:13px;font-weight:bold;fill:#2a2a2a" >阳山</text>
<text x="55.4" y="83.2" style="font-family:'Liberation Serif','Noto Serif CJK SC','Noto Sans CJK SC',serif;font-size:13px;font-weight:bold;fill:#2a2a2a" >最低值：</text>
<text x="0" y="0" transform="translate(107.6,83.2) scale(0.84,1)" style="font-family:'Liberation Mono',monospace;font-size:13px;font-weight:bold;fill:#2a2a2a" >25.5</text>
<text x="0" y="0" transform="translate(134.5,83.2) scale(0.84,1)" style="font-family:'Liberation Mono',monospace;font-size:13px;font-weight:bold;fill:#2a2a2a" >°</text>
<text x="0" y="0" transform="translate(147.4,83.2) scale(0.84,1)" style="font-family:'Liberation Mono',monospace;font-size:13px;font-weight:normal;fill:#2a2a2a" >C</text>
<text x="161" y="83.2" style="font-family:'Liberation Serif','Noto Serif CJK SC','Noto Sans CJK SC',serif;font-size:13px;font-weight:bold;fill:#2a2a2a" >惠来</text>
<rect x="104.00" y="530" width="14.40" height="11" fill="#400a2c"/>
<rect x="117.90" y="530" width="14.40" height="11" fill="#4c0a34"/>
<rect x="131.81" y="530" width="14.40" height="11" fill="#5e0b3e"/>
<rect x="145.71" y="530" width="14.40" height="11" fill="#700c4c"/>
<rect x="159.62" y="530" width="14.40" height="11" fill="#840e56"/>
<rect x="173.52" y="530" width="14.40" height="11" fill="#9a0e4c"/>
<rect x="187.43" y="530" width="14.40" height="11" fill="#b80e48"/>
<rect x="201.33" y="530" width="14.40" height="11" fill="#d81a20"/>
<rect x="215.24" y="530" width="14.40" height="11" fill="#e81010"/>
<rect x="229.14" y="530" width="14.40" height="11" fill="#e83418"/>
<rect x="243.05" y="530" width="14.40" height="11" fill="#e8501a"/>
<rect x="256.95" y="530" width="14.40" height="11" fill="#e85a18"/>
<rect x="270.86" y="530" width="14.40" height="11" fill="#f07020"/>
<rect x="284.76" y="530" width="14.40" height="11" fill="#f08a20"/>
<rect x="298.67" y="530" width="14.40" height="11" fill="#f09a20"/>
<rect x="312.57" y="530" width="14.40" height="11" fill="#f0a820"/>
<rect x="326.48" y="530" width="14.40" height="11" fill="#e8b818"/>
<rect x="340.38" y="530" width="14.40" height="11" fill="#e8c420"/>
<rect x="354.29" y="530" width="14.40" height="11" fill="#ecd030"/>
<rect x="368.19" y="530" width="14.40" height="11" fill="#f0e050"/>
<rect x="382.10" y="530" width="14.40" height="11" fill="#f0ec70"/>
<rect x="396.00" y="530" width="14.40" height="11" fill="#f0f080"/>
<rect x="409.90" y="530" width="14.40" height="11" fill="#d0f060"/>
<rect x="423.81" y="530" width="14.40" height="11" fill="#a8f070"/>
<rect x="437.71" y="530" width="14.40" height="11" fill="#80e068"/>
<rect x="451.62" y="530" width="14.40" height="11" fill="#70e060"/>
<rect x="465.52" y="530" width="14.40" height="11" fill="#40e050"/>
<rect x="479.43" y="530" width="14.40" height="11" fill="#40dc60"/>
<rect x="493.33" y="530" width="14.40" height="11" fill="#40e090"/>
<rect x="507.24" y="530" width="14.40" height="11" fill="#40f0d0"/>
<rect x="521.14" y="530" width="14.40" height="11" fill="#40f0f0"/>
<rect x="535.05" y="530" width="14.40" height="11" fill="#30c8e8"/>
<rect x="548.95" y="530" width="14.40" height="11" fill="#2898f0"/>
<rect x="562.86" y="530" width="14.40" height="11" fill="#2888f0"/>
<rect x="576.76" y="530" width="14.40" height="11" fill="#2070e8"/>
<rect x="590.67" y="530" width="14.40" height="11" fill="#1a60e8"/>
<rect x="604.57" y="530" width="14.40" height="11" fill="#2040e0"/>
<rect x="618.48" y="530" width="14.40" height="11" fill="#2020e0"/>
<rect x="632.38" y="530" width="14.40" height="11" fill="#1818d0"/>
<rect x="646.29" y="530" width="14.40" height="11" fill="#1010b0"/>
<rect x="660.19" y="530" width="14.40" height="11" fill="#0c0c80"/>
<rect x="674.10" y="530" width="14.40" height="11" fill="#0a0a50"/>
<text class="cb" x="0" y="0" text-anchor="middle" transform="translate(123.9,553.7) scale(0.86,1)">39</text>
<text class="cb" x="0" y="0" text-anchor="middle" transform="translate(152.6,553.7) scale(0.86,1)">37</text>
<text class="cb" x="0" y="0" text-anchor="middle" transform="translate(179.3,553.7) scale(0.86,1)">35</text>
<text class="cb" x="0" y="0" text-anchor="middle" transform="translate(208.0,553.7) scale(0.86,1)">33</text>
<text class="cb" x="0" y="0" text-anchor="middle" transform="translate(234.1,553.7) scale(0.86,1)">31</text>
<text class="cb" x="0" y="0" text-anchor="middle" transform="translate(264.0,553.7) scale(0.86,1)">29</text>
<text class="cb" x="0" y="0" text-anchor="middle" transform="translate(292.8,553.7) scale(0.86,1)">27</text>
<text class="cb" x="0" y="0" text-anchor="middle" transform="translate(319.3,553.7) scale(0.86,1)">25</text>
<text class="cb" x="0" y="0" text-anchor="middle" transform="translate(348.7,553.7) scale(0.86,1)">23</text>
<text class="cb" x="0" y="0" text-anchor="middle" transform="translate(376.5,553.7) scale(0.86,1)">21</text>
<text class="cb" x="0" y="0" text-anchor="middle" transform="translate(400.2,553.7) scale(0.86,1)">19</text>
<text class="cb" x="0" y="0" text-anchor="middle" transform="translate(429.6,553.7) scale(0.86,1)">17</text>
<text class="cb" x="0" y="0" text-anchor="middle" transform="translate(457.8,553.7) scale(0.86,1)">15</text>
<text class="cb" x="0" y="0" text-anchor="middle" transform="translate(485.0,553.7) scale(0.86,1)">12</text>
<text class="cb" x="0" y="0" text-anchor="middle" transform="translate(513.9,553.7) scale(0.86,1)">10</text>
<text class="cb" x="0" y="0" text-anchor="middle" transform="translate(541.4,553.7) scale(0.86,1)">6</text>
<text class="cb" x="0" y="0" text-anchor="middle" transform="translate(568.5,553.7) scale(0.86,1)">2</text>
<text class="cb" x="0" y="0" text-anchor="middle" transform="translate(597.6,553.7) scale(0.86,1)">0</text>
<text class="cb" x="0" y="0" text-anchor="middle" transform="translate(624.0,553.7) scale(0.86,1)">-2</text>
<text class="cb" x="0" y="0" text-anchor="middle" transform="translate(651.0,553.7) scale(0.86,1)">-6</text>
<text class="cb" x="0" y="0" text-anchor="middle" transform="translate(678.1,553.7) scale(0.86,1)">-10</text>
<g><path d="M285,543 C284,537 290,532.5 296,533.5 C300,530.5 305.5,533 304.5,537 C308.5,538.5 309,545 304,548.5 C299,551.5 286.5,551 285,543Z" fill="#fff" fill-opacity=".9" stroke="#a8a8a8" stroke-width=".6"/><ellipse cx="293" cy="544.2" rx="6.3" ry="3.8" fill="none" stroke="#999" stroke-width=".7"/><ellipse cx="292.2" cy="544.6" rx="2" ry="1.4" fill="#aaa"/><path d="M302,531.5 A7,7 0 0 1 309.5,539 M302.3,534.6 A3.8,3.8 0 0 1 306.3,538.6" fill="none" stroke="#aaa" stroke-width="2.2"/><path d="M302,531.5 A7,7 0 0 1 309.5,539 M302.3,534.6 A3.8,3.8 0 0 1 306.3,538.6" fill="none" stroke="#fff" stroke-width="1.2"/></g>
<text x="316.5" y="543.5" style="font-family:'Liberation Sans','Noto Sans CJK SC',sans-serif;fill:#fff;fill-opacity:.85;stroke:#a0a0a0;stroke-opacity:.6;stroke-width:.45;font-size:13px">@</text>
<text x="0" y="0" transform="translate(332,543.6) scale(1.28,1)" style="font-family:'Liberation Sans','Noto Sans CJK SC',sans-serif;fill:#fff;fill-opacity:.85;stroke:#a0a0a0;stroke-opacity:.6;stroke-width:.45;font-size:14px">广东天气</text>
</svg>
</body></html>
